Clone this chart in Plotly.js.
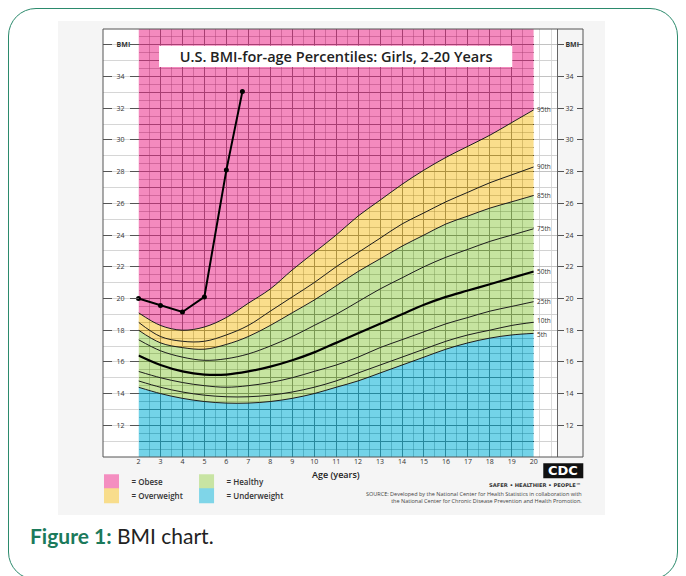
<!DOCTYPE html>
<html><head><meta charset="utf-8">
<script src="https://cdn.plot.ly/plotly-3.0.1.min.js"></script>
<style>
html,body{margin:0;padding:0;background:#fff;}
#wrap{position:relative;width:686px;height:576px;overflow:hidden;background:#fff;}
#imgbg{position:absolute;left:58px;top:21px;width:547px;height:494px;background:#f5f5f5;}
#chart{position:absolute;left:0;top:0;width:686px;height:576px;}
#card{position:absolute;left:8px;top:8px;width:668px;height:570px;border:1.5px solid #2b8a6c;border-radius:28px;pointer-events:none;}
</style></head>
<body><div id="wrap"><div id="imgbg"></div><div id="chart"></div><div id="card"></div></div>
<script>
// ---- data ----
const ages = [2,3,4,5,6,7,8,9,10,11,12,13,14,15,16,17,18,19,20];
const p5  = [14.4,14.0,13.7,13.5,13.4,13.4,13.5,13.7,14.0,14.4,14.8,15.3,15.8,16.3,16.8,17.2,17.5,17.7,17.8];
const p10 = [14.8,14.4,14.1,13.9,13.8,13.8,13.9,14.1,14.4,14.8,15.3,15.8,16.3,16.8,17.3,17.7,18.0,18.3,18.5];
const p25 = [15.4,15.0,14.7,14.5,14.4,14.5,14.7,15.0,15.4,15.8,16.3,16.9,17.4,17.9,18.4,18.8,19.2,19.5,19.8];
const p50 = [16.4,15.8,15.4,15.2,15.2,15.4,15.7,16.1,16.6,17.2,17.8,18.4,19.0,19.6,20.1,20.5,20.9,21.3,21.7];
const p75 = [17.4,16.7,16.3,16.1,16.2,16.5,17.0,17.6,18.3,19.0,19.8,20.6,21.3,22.0,22.6,23.1,23.6,24.0,24.4];
const p85 = [18.0,17.2,16.9,16.8,17.1,17.6,18.3,19.1,19.9,20.8,21.7,22.5,23.3,24.0,24.7,25.2,25.7,26.1,26.5];
const p90 = [18.5,17.6,17.3,17.3,17.7,18.3,19.2,20.1,21.0,22.0,22.9,23.8,24.7,25.4,26.1,26.7,27.3,27.8,28.3];
const p95 = [19.1,18.3,18.0,18.2,18.8,19.7,20.6,21.8,22.9,24.0,25.2,26.2,27.2,28.1,28.9,29.6,30.3,31.1,31.9];
const patientAge = [2, 3, 4, 5, 6, 6.73];
const patientBmi = [20.0, 19.55, 19.15, 20.1, 28.1, 33.05];
const yTickVals = [12,14,16,18,20,22,24,26,28,30,32,34,36];
const yTickText = ['12','14','16','18','20','22','24','26','28','30','32','34','<b>BMI</b>'];
const labelRight = {95:'95th',90:'90th',85:'85th',75:'75th',50:'50th',25:'25th',10:'10th',5:'5th'};
const BMI_RANGE = [10, 37];
const AGE_RANGE = [2, 20];

// ---- geometry helpers (layout, not data) ----
const L = 103, R = 103.3, T = 29.3, B = 119.3, W = 686, H = 576;
const plotW = W - L - R, plotH = H - T - B;
const px2x = p => (p - L) / plotW;
const px2y = p => (H - B - p) / plotH;

const ink = '#1c1c1c';
const colBlue = 'rgba(55,193,222,0.7)';
const colGreen = 'rgba(174,216,119,0.7)';
const colYellow = 'rgba(248,208,91,0.7)';
const colPink = 'rgba(240,88,162,0.7)';
const topLine = ages.map(() => BMI_RANGE[1]);

const traces = [
  {x: ages, y: p5, mode:'lines', line:{color:ink, width:1, shape:'spline'}, fill:'tozeroy', fillcolor:colBlue, showlegend:false, hoverinfo:'skip'},
  {x: ages, y: p85, mode:'lines', line:{color:ink, width:1, shape:'spline'}, fill:'tonexty', fillcolor:colGreen, showlegend:false, hoverinfo:'skip'},
  {x: ages, y: p95, mode:'lines', line:{color:ink, width:1, shape:'spline'}, fill:'tonexty', fillcolor:colYellow, showlegend:false, hoverinfo:'skip'},
  {x: ages, y: topLine, mode:'lines', line:{width:0}, fill:'tonexty', fillcolor:colPink, showlegend:false, hoverinfo:'skip'},
  {x: ages, y: p10, mode:'lines', line:{color:ink, width:1, shape:'spline'}, showlegend:false, hoverinfo:'skip'},
  {x: ages, y: p25, mode:'lines', line:{color:ink, width:1, shape:'spline'}, showlegend:false, hoverinfo:'skip'},
  {x: ages, y: p50, mode:'lines', line:{color:'#000', width:2.2, shape:'spline'}, showlegend:false, hoverinfo:'skip'},
  {x: ages, y: p75, mode:'lines', line:{color:ink, width:1, shape:'spline'}, showlegend:false, hoverinfo:'skip'},
  {x: ages, y: p90, mode:'lines', line:{color:ink, width:1, shape:'spline'}, showlegend:false, hoverinfo:'skip'},
  {x: patientAge, y: patientBmi, mode:'lines+markers', line:{color:'#000', width:2}, marker:{color:'#000', size:5}, cliponaxis:false, showlegend:false, hoverinfo:'skip'},
  // strip subplots
  {x:[null], y:[null], xaxis:'x2', yaxis:'y2', showlegend:false, hoverinfo:'skip'},
  {x:[null], y:[null], xaxis:'x3', yaxis:'y3', showlegend:false, hoverinfo:'skip'},
  {x:[null], y:[null], xaxis:'x3', yaxis:'y4', showlegend:false, hoverinfo:'skip'},
  // legend entries
  {x:[null], y:[null], mode:'markers', name:'= Obese', marker:{symbol:'square', size:15, color:'#f48ec0'}, legend:'legend'},
  {x:[null], y:[null], mode:'markers', name:'= Overweight', marker:{symbol:'square', size:15, color:'#f8dd8c'}, legend:'legend2'},
  {x:[null], y:[null], mode:'markers', name:'= Healthy', marker:{symbol:'square', size:15, color:'#c8e4a3'}, legend:'legend3'},
  {x:[null], y:[null], mode:'markers', name:'= Underweight', marker:{symbol:'square', size:15, color:'#7fd5e8'}, legend:'legend4'}
];

// right-side percentile labels, placed at each curve's value at age 20
const pctSeries = {95:p95, 90:p90, 85:p85, 75:p75, 50:p50, 25:p25, 10:p10, 5:p5};
const annotations = Object.keys(pctSeries).map(k => ({
  x: AGE_RANGE[1], y: pctSeries[k][pctSeries[k].length-1], xref:'x', yref:'y',
  text: labelRight[k], showarrow:false, xanchor:'left', yanchor:'middle', xshift:1, yshift: (k==='5'?-1:(k==='10'?2:0)),
  font:{size:6.5, color:'#333', family:'Open Sans'}
}));
annotations.push(
  {x: 11, y: px2y(474), xref:'x', yref:'paper', xanchor:'center', yanchor:'middle', text:'Age (years)', showarrow:false,
   font:{size:9, color:'#222', family:'Open Sans', weight:600}},
  {x: px2x(584), y: px2y(497), xref:'paper', yref:'paper', xanchor:'right', yanchor:'middle', align:'right', showarrow:false,
   text:'SOURCE: Developed by the National Center for Health Statistics in collaboration with<br>the National Center for Chronic Disease Prevention and Health Promotion.',
   font:{size:5.5, color:'#444', family:'Open Sans'}},
  {x: px2x(535), y: px2y(484.5), xref:'paper', yref:'paper', xanchor:'center', yanchor:'middle', showarrow:false, text:'SAFER • HEALTHIER • PEOPLE™',
   font:{size:5.2, color:'#333', family:'DejaVu Sans', weight:700}},
  {x: px2x(563), y: px2y(470.5), xref:'paper', yref:'paper', xanchor:'center', yanchor:'middle', showarrow:false, text:'<b>CDC</b>',
   font:{size:13, color:'#fff', family:'DejaVu Sans'}},
  {x: px2x(28), y: px2y(535), xref:'paper', yref:'paper', xanchor:'left', yanchor:'middle', showarrow:false,
   text:'<span style="color:#1b7a5b"><b>Figure 1:</b></span> BMI chart.',
   font:{size:21, color:'#222', family:'Lato'}}
);

const gridMajor = 'rgba(0,0,0,1)';
const gridMinor = 'rgba(0,0,0,0.45)';
const legendBase = {bgcolor:'rgba(0,0,0,0)', xanchor:'left', yanchor:'middle', itemwidth:30,
  font:{size:8, color:'#333', family:'Open Sans', weight:600}};

const layout = {
  width: W, height: H,
  margin: {l:L, r:R, t:T, b:B, pad:0},
  paper_bgcolor: 'rgba(0,0,0,0)',
  plot_bgcolor: '#ffffff',
  font: {family:'Open Sans', color:'#333'},
  title: {text:'U.S. BMI-for-age Percentiles: Girls, 2-20 Years', xref:'paper', x: px2x(336), xanchor:'center',
          yref:'container', y: 1 - 56.7/H, yanchor:'middle', font:{size:14.5, color:'#222', family:'Open Sans', weight:600}},
  xaxis: {domain:[px2x(138.5), px2x(533.5)], range:AGE_RANGE, tickmode:'linear', tick0:2, dtick:1,
          ticks:'', showgrid:true, gridcolor:gridMajor, gridwidth:1, zeroline:false, showline:false,
          tickfont:{size:7, color:'#333'}, ticklabelstandoff:-1,
          minor:{tickmode:'linear', tick0:2, dtick:0.5, showgrid:true, gridcolor:gridMinor, gridwidth:1}},
  yaxis: {domain:[0,1], range:BMI_RANGE, tickmode:'linear', tick0:10, dtick:1, ticks:'', showticklabels:false,
          showgrid:true, gridcolor:gridMajor, gridwidth:1, zeroline:false, showline:false,
          minor:{tickmode:'linear', tick0:10, dtick:0.5, showgrid:true, gridcolor:gridMinor, gridwidth:1}},
  xaxis2: {domain:[0, px2x(138.5)], range:[0,1], anchor:'y2', showgrid:false, zeroline:false, showticklabels:false, ticks:'', showline:false},
  yaxis2: {anchor:'x2', range:BMI_RANGE, tickmode:'array', tickvals:yTickVals, ticktext:yTickText,
           ticks:'inside', ticklen:9, tickwidth:1, tickcolor:'#555', mirror:'ticks', showline:false,
           ticklabelposition:'inside', ticklabelstandoff:3, tickfont:{size:7, color:'#333'}, showgrid:false, zeroline:false,
           minor:{tickmode:'linear', tick0:10, dtick:1, showgrid:true, gridcolor:'#d6d6d6', ticks:''}},
  xaxis3: {domain:[px2x(533.5), px2x(556.7)], range:[20,21], anchor:'y3', showgrid:false, zeroline:false, showticklabels:false, ticks:'', showline:false,
           minor:{tickmode:'linear', tick0:20, dtick:0.25, showgrid:true, gridcolor:'#dcdcdc'}},
  yaxis3: {anchor:'x3', side:'right', range:BMI_RANGE, tickmode:'array', tickvals:yTickVals, ticktext:yTickText,
           ticks:'outside', ticklen:6, tickwidth:1, tickcolor:'#555', showline:true, linecolor:'#666', linewidth:1,
           tickfont:{size:7, color:'#333'}, showgrid:true, gridcolor:'#c2c2c2', zeroline:false,
           minor:{tickmode:'linear', tick0:10, dtick:1, showgrid:true, gridcolor:'#d2d2d2', ticks:''}},
  yaxis4: {overlaying:'y3', anchor:'free', position:1, side:'right', range:BMI_RANGE, tickmode:'array', tickvals:yTickVals,
           ticks:'inside', ticklen:6, tickwidth:1, tickcolor:'#555', showticklabels:false, showline:false, showgrid:false, zeroline:false},
  legend:  Object.assign({}, legendBase, {x: px2x(91.5),  y: px2y(481.5)}),
  legend2: Object.assign({}, legendBase, {x: px2x(91.5),  y: px2y(495.5)}),
  legend3: Object.assign({}, legendBase, {x: px2x(186.5), y: px2y(481.5)}),
  legend4: Object.assign({}, legendBase, {x: px2x(186.5), y: px2y(495.5)}),
  shapes: [
    {type:'rect', xref:'paper', yref:'paper', x0:px2x(159), x1:px2x(512), y0:px2y(67.3), y1:px2y(46),
     fillcolor:'#ffffff', line:{width:0}, layer:'above'},
    {type:'rect', xref:'paper', yref:'paper', x0:0, x1:1, y0:0, y1:1, line:{color:'#555', width:1}, layer:'above'},
    {type:'rect', xref:'paper', yref:'paper', x0:px2x(543), x1:px2x(583), y0:px2y(478), y1:px2y(463),
     fillcolor:'#111', line:{width:0}, layer:'above'}
  ],
  annotations: annotations
};

Plotly.newPlot('chart', traces, layout, {staticPlot:true, displayModeBar:false});
</script>
</body></html>
